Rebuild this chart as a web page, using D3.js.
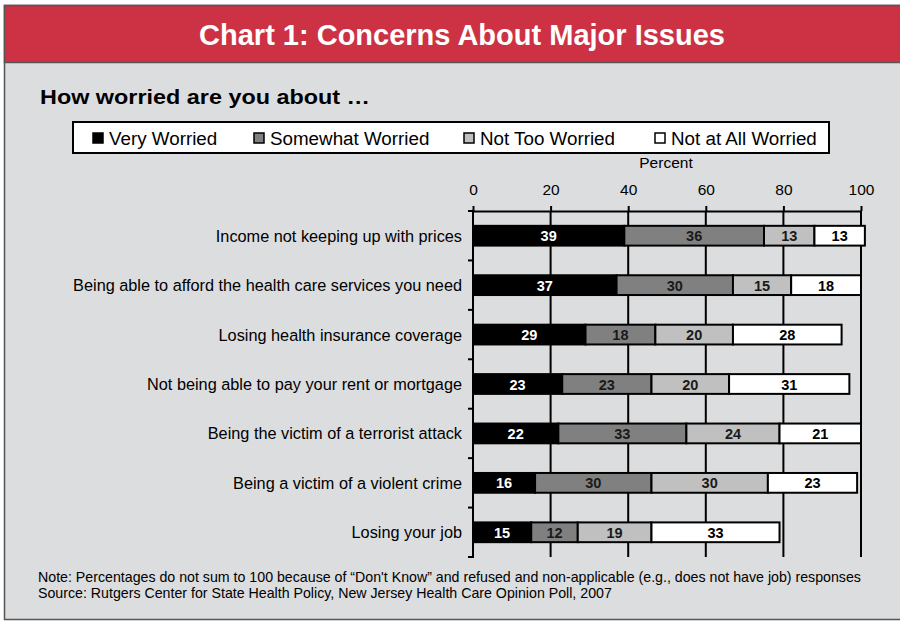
<!DOCTYPE html>
<html>
<head>
<meta charset="utf-8">
<script src="https://cdn.jsdelivr.net/npm/d3@7"></script>
<style>
  html, body { margin: 0; padding: 0; background: #ffffff; }
  svg { display: block; font-family: "Liberation Sans", Arial, sans-serif; }
</style>
</head>
<body>
<svg id="chart" width="900" height="622"></svg>
<script>
// Survey items, in display order
const categories = [
  "Income not keeping up with prices",
  "Being able to afford the health care services you need",
  "Losing health insurance coverage",
  "Not being able to pay your rent or mortgage",
  "Being the victim of a terrorist attack",
  "Being a victim of a violent crime",
  "Losing your job"
];
// Percent responding, by level of worry
const veryWorried     = [39, 37, 29, 23, 22, 16, 15];
const somewhatWorried = [36, 30, 18, 23, 33, 30, 12];
const notTooWorried   = [13, 15, 20, 20, 24, 30, 19];
const notAtAllWorried = [13, 18, 28, 31, 21, 23, 33];

const seriesNames = ["Very Worried", "Somewhat Worried", "Not Too Worried", "Not at All Worried"];
const seriesColors = ["#000000", "#808080", "#c0c0c0", "#ffffff"];
const labelColors = ["#ffffff", "#1a1a1a", "#1a1a1a", "#000000"];
const axisTicks = [0, 20, 40, 60, 80, 100];

const titleText = "Chart 1: Concerns About Major Issues";
const subtitleText = "How worried are you about \u2026";
const noteLines = [
  "Note: Percentages do not sum to 100 because of \u201cDon't Know\u201d and refused and non-applicable (e.g., does not have job) responses",
  "Source: Rutgers Center for State Health Policy, New Jersey Health Care Opinion Poll, 2007"
];

const rows = categories.map((c, i) => ({
  cat: c,
  vals: [veryWorried[i], somewhatWorried[i], notTooWorried[i], notAtAllWorried[i]]
}));

const svg = d3.select("#chart");

// Panel frame and header band
svg.append("rect").attr("x", 4.5).attr("y", 5.5).attr("width", 910).attr("height", 614)
  .attr("fill", "#dcdddf").attr("stroke", "#555555").attr("stroke-width", 1.5);
svg.append("rect").attr("x", 4.5).attr("y", 5.5).attr("width", 910).attr("height", 57)
  .attr("fill", "#cd3244").attr("stroke", "#555555").attr("stroke-width", 1.5);
svg.append("text").attr("x", 462).attr("y", 45).attr("text-anchor", "middle")
  .attr("fill", "#ffffff").attr("font-size", 29).attr("font-weight", "bold").text(titleText);

svg.append("text").attr("x", 40).attr("y", 104).attr("font-size", 21).attr("font-weight", "bold")
  .attr("fill", "#000").attr("textLength", 330).attr("lengthAdjust", "spacingAndGlyphs").text(subtitleText);

// Legend
const legend = svg.append("g");
legend.append("rect").attr("x", 73).attr("y", 122).attr("width", 756).attr("height", 31)
  .attr("fill", "#ffffff").attr("stroke", "#000").attr("stroke-width", 2);
const legendX = [93, 254, 464, 655];
seriesNames.forEach((name, i) => {
  legend.append("rect").attr("x", legendX[i]).attr("y", 133).attr("width", 10).attr("height", 10)
    .attr("fill", seriesColors[i]).attr("stroke", "#000").attr("stroke-width", 1.5);
  legend.append("text").attr("x", legendX[i] + 16).attr("y", 144.5).attr("font-size", 18.8)
    .attr("fill", "#000").text(name);
});

// Plot geometry
const plot = { left: 473, right: 861, top: 211, bottom: 557 };
const x = d3.scaleLinear().domain([0, 100]).range([plot.left, plot.right]);
const y = d3.scaleBand().domain(categories).range([plot.top, plot.bottom]).paddingInner(0.6).paddingOuter(0.3);
const band = d3.scaleBand().domain(categories).range([plot.top, plot.bottom]);

svg.append("text").attr("x", 666).attr("y", 168).attr("text-anchor", "middle")
  .attr("font-size", 15.5).attr("fill", "#000").text("Percent");

// Top axis with gridlines
const gAxis = svg.append("g").attr("transform", `translate(0,${plot.top})`)
  .call(d3.axisTop(x).tickValues(axisTicks).tickSize(5).tickSizeOuter(0));
gAxis.select(".domain").attr("stroke", "#000").attr("stroke-width", 2);
gAxis.selectAll(".tick line").attr("stroke", "#000").attr("stroke-width", 2);
gAxis.selectAll(".tick text").attr("font-size", 15.5).attr("fill", "#000")
  .attr("font-family", "Liberation Sans, Arial, sans-serif").attr("dy", "-0.5em");

svg.append("g").selectAll("line").data(axisTicks.slice(1)).join("line")
  .attr("x1", d => x(d)).attr("x2", d => x(d)).attr("y1", plot.top).attr("y2", plot.bottom)
  .attr("stroke", "#000").attr("stroke-width", 2);

// Left axis with category boundary ticks
const leftAxis = svg.append("g");
leftAxis.append("line").attr("x1", plot.left).attr("x2", plot.left).attr("y1", plot.top - 1).attr("y2", plot.bottom + 1)
  .attr("stroke", "#000").attr("stroke-width", 2);
const bounds = categories.map(c => band(c)).concat([plot.bottom]);
leftAxis.selectAll("line.tk").data(bounds).join("line").attr("class", "tk")
  .attr("x1", plot.left - 5).attr("x2", plot.left).attr("y1", d => d).attr("y2", d => d)
  .attr("stroke", "#000").attr("stroke-width", 2);
leftAxis.selectAll("text").data(categories).join("text")
  .attr("x", 462).attr("y", d => band(d) + band.bandwidth() / 2 + 6)
  .attr("text-anchor", "end").attr("font-size", 16.3).attr("fill", "#000").text(d => d);

// Stacked bars
const barG = svg.append("g");
rows.forEach(r => {
  let acc = 0;
  r.vals.forEach((v, i) => {
    const x0 = x(acc), x1 = x(acc + v);
    acc += v;
    barG.append("rect").attr("x", x0).attr("y", y(r.cat)).attr("width", x1 - x0).attr("height", y.bandwidth())
      .attr("fill", seriesColors[i]).attr("stroke", "#000").attr("stroke-width", 2);
    barG.append("text").attr("x", (x0 + x1) / 2).attr("y", y(r.cat) + y.bandwidth() / 2 + 5.5)
      .attr("text-anchor", "middle").attr("font-size", 14.5).attr("font-weight", "bold")
      .attr("fill", labelColors[i]).text(v);
  });
});

// Notes
svg.selectAll("text.note").data(noteLines).join("text").attr("class", "note")
  .attr("x", 38).attr("y", (d, i) => 582 + i * 16).attr("font-size", 14.2).attr("fill", "#000").text(d => d);
</script>
</body>
</html>
